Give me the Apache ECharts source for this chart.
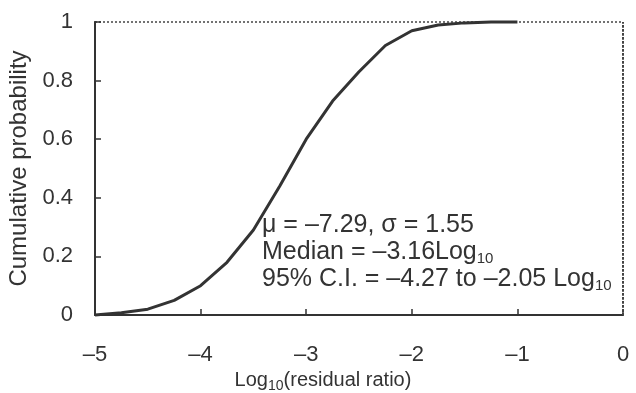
<!DOCTYPE html>
<html>
<head>
<meta charset="utf-8">
<script src="https://cdn.jsdelivr.net/npm/echarts@6/dist/echarts.min.js"></script>
<style>
  html, body { margin: 0; padding: 0; background: #fff; }
</style>
</head>
<body>
<div id="main" style="width: 636px;height:393px;"></div>
<script>
var logRatio = [-5, -4.75, -4.5, -4.25, -4, -3.75, -3.5, -3.25, -3, -2.75, -2.5, -2.25, -2, -1.75, -1.5, -1.25, -1];
var cumProb = [0.0, 0.008, 0.02, 0.05, 0.10, 0.18, 0.29, 0.44, 0.60, 0.73, 0.83, 0.92, 0.97, 0.99, 0.997, 1.0, 1.0];
var xTicks = [-5, -4, -3, -2, -1, 0];
var yTicks = [0, 0.2, 0.4, 0.6, 0.8, 1];
var noteLines = ['μ = –7.29, σ = 1.55', 'Median = –3.16Log', '95% C.I. = –4.27 to –2.05 Log'];

var chartDom = document.getElementById('main');
var myChart = echarts.init(chartDom);
var font = 'Liberation Sans, Arial, sans-serif';
var ink = '#333';

var data = logRatio.map(function (x, i) { return [x, cumProb[i]]; });

var option = {
  animation: false,
  grid: {
    left: 95, right: 13, top: 22, bottom: 78,
    outerBoundsMode: 'none',
    containLabel: false,
    show: true,
    borderColor: '#444',
    borderWidth: 1.5,
    borderType: [2, 2]
  },
  xAxis: {
    type: 'value',
    min: xTicks[0],
    max: xTicks[xTicks.length - 1],
    interval: 1,
    splitLine: { show: false },
    axisLine: { onZero: false, lineStyle: { color: ink, width: 2 } },
    axisTick: { inside: true, length: 6, lineStyle: { color: ink, width: 1.5 } },
    axisLabel: {
      margin: 29,
      color: ink,
      fontFamily: font,
      fontSize: 22,
      formatter: function (v) { return v < 0 ? '–' + Math.abs(v) : String(v); }
    },
    name: '{m|Log}{s|10}{m|(residual ratio)}',
    nameLocation: 'middle',
    nameGap: 52,
    nameTextStyle: {
      padding: [0, 72, 0, 0],
      rich: {
        m: { fontFamily: font, fontSize: 20, color: ink },
        s: { fontFamily: font, fontSize: 14, color: ink, verticalAlign: 'bottom', padding: [10, 0, 0, 0] }
      }
    }
  },
  yAxis: {
    type: 'value',
    min: yTicks[0],
    max: yTicks[yTicks.length - 1],
    interval: 0.2,
    splitLine: { show: false },
    axisLine: { show: true, onZero: false, lineStyle: { color: ink, width: 2 } },
    axisTick: { show: true, inside: true, length: 6, lineStyle: { color: ink, width: 1.5 } },
    axisLabel: {
      margin: 22,
      color: ink,
      fontFamily: font,
      fontSize: 22,
      formatter: function (v) { return String(Math.round(v * 10) / 10); }
    },
    name: 'Cumulative probability',
    nameLocation: 'middle',
    nameGap: 55,
    nameTextStyle: { fontFamily: font, fontSize: 24, color: ink }
  },
  series: [
    {
      type: 'line',
      data: data,
      smooth: false,
      showSymbol: false,
      clip: false,
      lineStyle: { color: ink, width: 3 },
      // dotted right frame at x = 0
      markLine: {
        silent: true,
        symbol: 'none',
        label: { show: false },
        lineStyle: { color: '#444', width: 2, type: [2, 2] },
        data: [[{ coord: [xTicks[xTicks.length - 1], yTicks[0]] }, { coord: [xTicks[xTicks.length - 1], yTicks[yTicks.length - 1]] }]]
      }
    }
  ],
  graphic: [
    {
      type: 'text',
      left: 262,
      top: 212,
      style: {
        text: noteLines[0] + '\n{m|' + noteLines[1] + '}{s|10}\n{m|' + noteLines[2] + '}{s|10}',
        font: '25px ' + font,
        fill: ink,
        lineHeight: 27,
        rich: {
          m: { fontFamily: font, fontSize: 25, fill: ink, lineHeight: 27 },
          s: { fontFamily: font, fontSize: 15, fill: ink, verticalAlign: 'bottom', lineHeight: 27, padding: [12, 0, 0, 0] }
        }
      }
    }
  ]
};

option && myChart.setOption(option);
</script>
</body>
</html>
